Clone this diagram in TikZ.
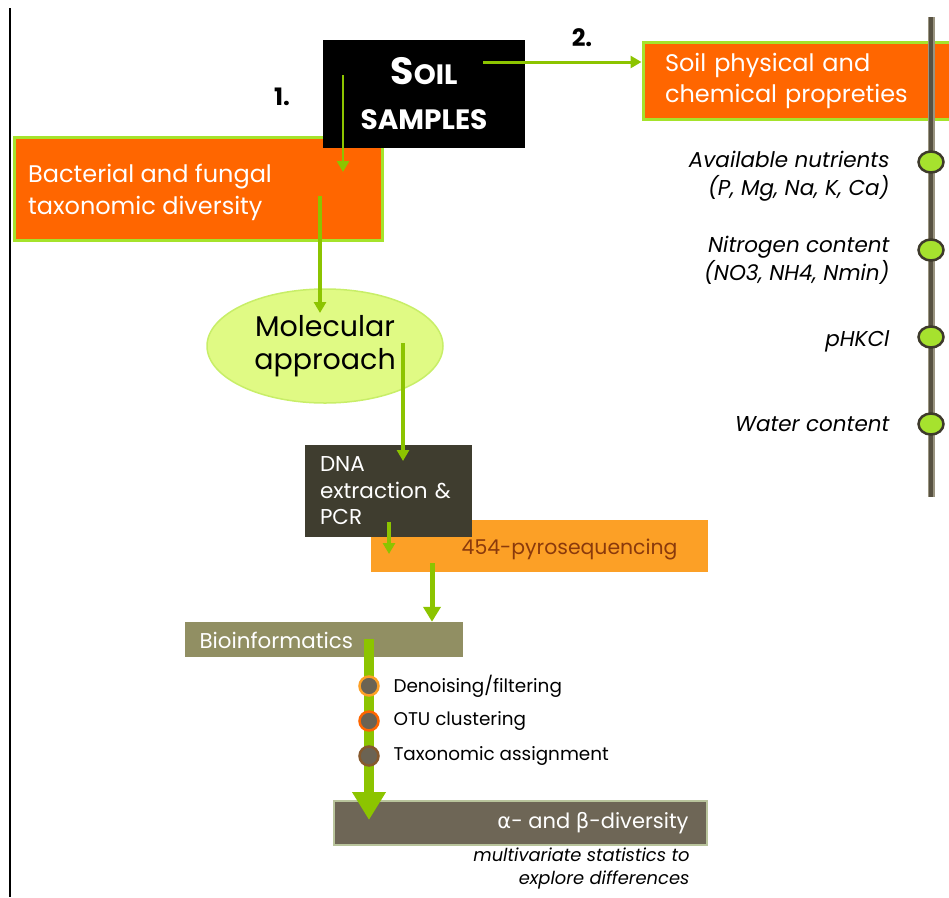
\documentclass[tikz,border=0pt]{standalone}
\usepackage{fontspec}
\setmainfont{Poppins}
\newfontfamily\greekfont{DejaVu Sans}
\usetikzlibrary{arrows.meta,shapes.geometric}

\definecolor{arrowgreen}{HTML}{8CC400}
\definecolor{boxorange}{HTML}{FF6600}
\definecolor{rimgreen}{HTML}{A5E32B}
\definecolor{lime}{HTML}{A6E22E}
\definecolor{ellfill}{HTML}{E0FA84}
\definecolor{ellrim}{HTML}{C8EE68}
\definecolor{dnafill}{HTML}{3F3D2F}
\definecolor{pyrofill}{HTML}{FCA026}
\definecolor{pyrotext}{HTML}{8A3A0C}
\definecolor{biofill}{HTML}{918F63}
\definecolor{divfill}{HTML}{6E6656}
\definecolor{divrim}{HTML}{B9C49C}
\definecolor{axisgray}{HTML}{585242}
\definecolor{axisrim}{HTML}{9A9480}
\definecolor{dotrim}{HTML}{3E3A2C}
\definecolor{dotgray}{HTML}{6B6353}

\tikzset{
  flow/.style={draw=arrowgreen, line width=3.5pt, -{Triangle[length=11pt,width=12pt]}},
  orangebox/.style={rectangle, draw=rimgreen, line width=3pt, fill=boxorange, text=white,
    align=left, inner sep=0pt, font=\fontsize{24}{31}\selectfont},
  dot/.style={ellipse, draw=dotrim, line width=2.5pt, fill=lime, minimum width=25pt,
    minimum height=21pt, inner sep=0pt},
  proplabel/.style={anchor=east, align=right, font=\fontsize{21.5}{27.5}\selectfont\itshape},
  stepdot/.style={circle, fill=dotgray, line width=2.5pt, minimum size=19pt, inner sep=0pt},
  steplabel/.style={anchor=west, font=\fontsize{18.4}{20}\selectfont},
}

\begin{document}
\begin{tikzpicture}[x=1pt, y=-1pt]
\useasboundingbox (0,0) rectangle (949,897);
\clip (0,0) rectangle (949,897);

% frame line on the left
\coordinate (lt) at (10,8);
\coordinate (lb) at (10,897);
\draw[line width=1.5pt] (lt) -- (lb);

% 1. diversity branch
\node[orangebox, minimum width=368pt, minimum height=103pt] (bact) at (198,188.5) {};
\node[anchor=west, text=white, align=left, inner sep=0pt, font=\fontsize{24}{32}\selectfont] (bacttxt) at (28,192)
  {Bacterial and fungal\\taxonomic diversity};
\node[fill=black, minimum width=202pt, minimum height=108pt, text=white, align=center,
  font=\bfseries\fontsize{28}{45}\selectfont] (soil) at (424,94)
  {{\fontsize{38}{45}\selectfont S}OIL\\SAMPLES};
\node[font=\bfseries\fontsize{24}{24}\selectfont] (one) at (282,97) {1.};
\coordinate (a1from) at (343,75);
\coordinate (a1to) at (343,172);
\draw[flow, line width=2.5pt] (a1from) -- (a1to);

% 2. soil properties branch
\node[orangebox, minimum width=320pt, minimum height=77pt, text width=276pt] (phys) at (803,81)
  {Soil physical and\\chemical propreties};
\node[font=\bfseries\fontsize{24}{24}\selectfont] (two) at (582,38) {2.};
\coordinate (a2from) at (483,62);
\draw[flow, line width=3pt] (a2from) -- (a2from -| phys.west);

% property axis
\coordinate (axtop) at (931,17);
\coordinate (axbot) at (931,497);
\draw[line width=7pt, axisrim] (axtop) -- (axbot);
\draw[line width=4pt, axisgray] (axtop) -- (axbot);
\node[dot] (d1) at (931,162) {};
\node[dot] (d2) at (931,250) {};
\node[dot] (d3) at (931,337) {};
\node[dot] (d4) at (931,424) {};
\node[proplabel] (l1) at (893,176) {Available nutrients\\(P, Mg, Na, K, Ca)};
\node[proplabel] (l2) at (893,260.5) {Nitrogen content\\(NO3, NH4, Nmin)};
\node[proplabel] (l3) at (893,341) {pHKCl};
\node[proplabel] (l4) at (893,424) {Water content};

% molecular approach
\node[ellipse, fill=ellfill, draw=ellrim, line width=1.5pt, minimum width=236pt, minimum height=114pt,
  align=center, font=\fontsize{28.5}{33}\selectfont] (mol) at (325,346) {Molecular\\approach};
\coordinate (a3from) at (320,196);
\coordinate (a3to) at (320,313);
\draw[flow, line width=4pt] (a3from) -- (a3to);

% sequencing
\node[fill=pyrofill, minimum width=337pt, minimum height=52pt] (pyro) at (539.5,546) {};
\node[anchor=east, text=pyrotext, font=\fontsize{20.4}{20}\selectfont] (pyrotxt) at (681,549) {454-pyrosequencing};
\node[fill=dnafill, minimum width=167pt, minimum height=92pt, text=white, align=left, inner sep=0pt,
  text width=137pt, font=\fontsize{21.5}{26.5}\selectfont] (dna) at (388.5,491) {DNA\\extraction \&\\PCR};
\coordinate (a4from) at (403,343);
\coordinate (a4to) at (403,461);
\draw[flow, line width=4pt] (a4from) -- (a4to);
\coordinate (a5from) at (389,522);
\coordinate (a5to) at (389,554);
\draw[flow, line width=3.5pt] (a5from) -- (a5to);

% bioinformatics
\node[fill=biofill, minimum width=278pt, minimum height=35pt] (bio) at (324,639.5) {};
\node[anchor=west, text=white, font=\fontsize{21.4}{20}\selectfont] (biotxt) at (196,640) {Bioinformatics};
\coordinate (a6from) at (432,563);
\draw[flow, line width=5pt, -{Triangle[length=15pt,width=17pt]}] (a6from) -- (a6from |- bio.north);

% diversity
\node[fill=divfill, draw=divrim, line width=1.5pt, minimum width=373pt, minimum height=44pt] (div) at (520.5,823) {};
\node[anchor=east, text=white, font=\fontsize{21}{21}\selectfont] (divtxt) at (692,823)
  {{\greekfont α}- and {\greekfont β}-diversity};
\coordinate (a7from) at (369,639);
\coordinate (a7to) at (369,820);
\draw[arrowgreen, line width=10pt, -{Triangle[length=28pt,width=32pt]}] (a7from) -- (a7to);
\node[stepdot, draw=pyrofill] (s1) at (369,686) {};
\node[stepdot, draw=boxorange] (s2) at (369,721) {};
\node[stepdot, draw=brown!70!black] (s3) at (369,756) {};
\node[steplabel] (t1) at (390,686) {Denoising/filtering};
\node[steplabel] (t2) at (390,721) {OTU clustering};
\node[steplabel] (t3) at (390,756) {Taxonomic assignment};
\node[anchor=east, align=right, font=\fontsize{17.9}{23}\selectfont\itshape] (stats) at (693,868.5)
  {multivariate statistics to\\explore differences};

\end{tikzpicture}
\end{document}
